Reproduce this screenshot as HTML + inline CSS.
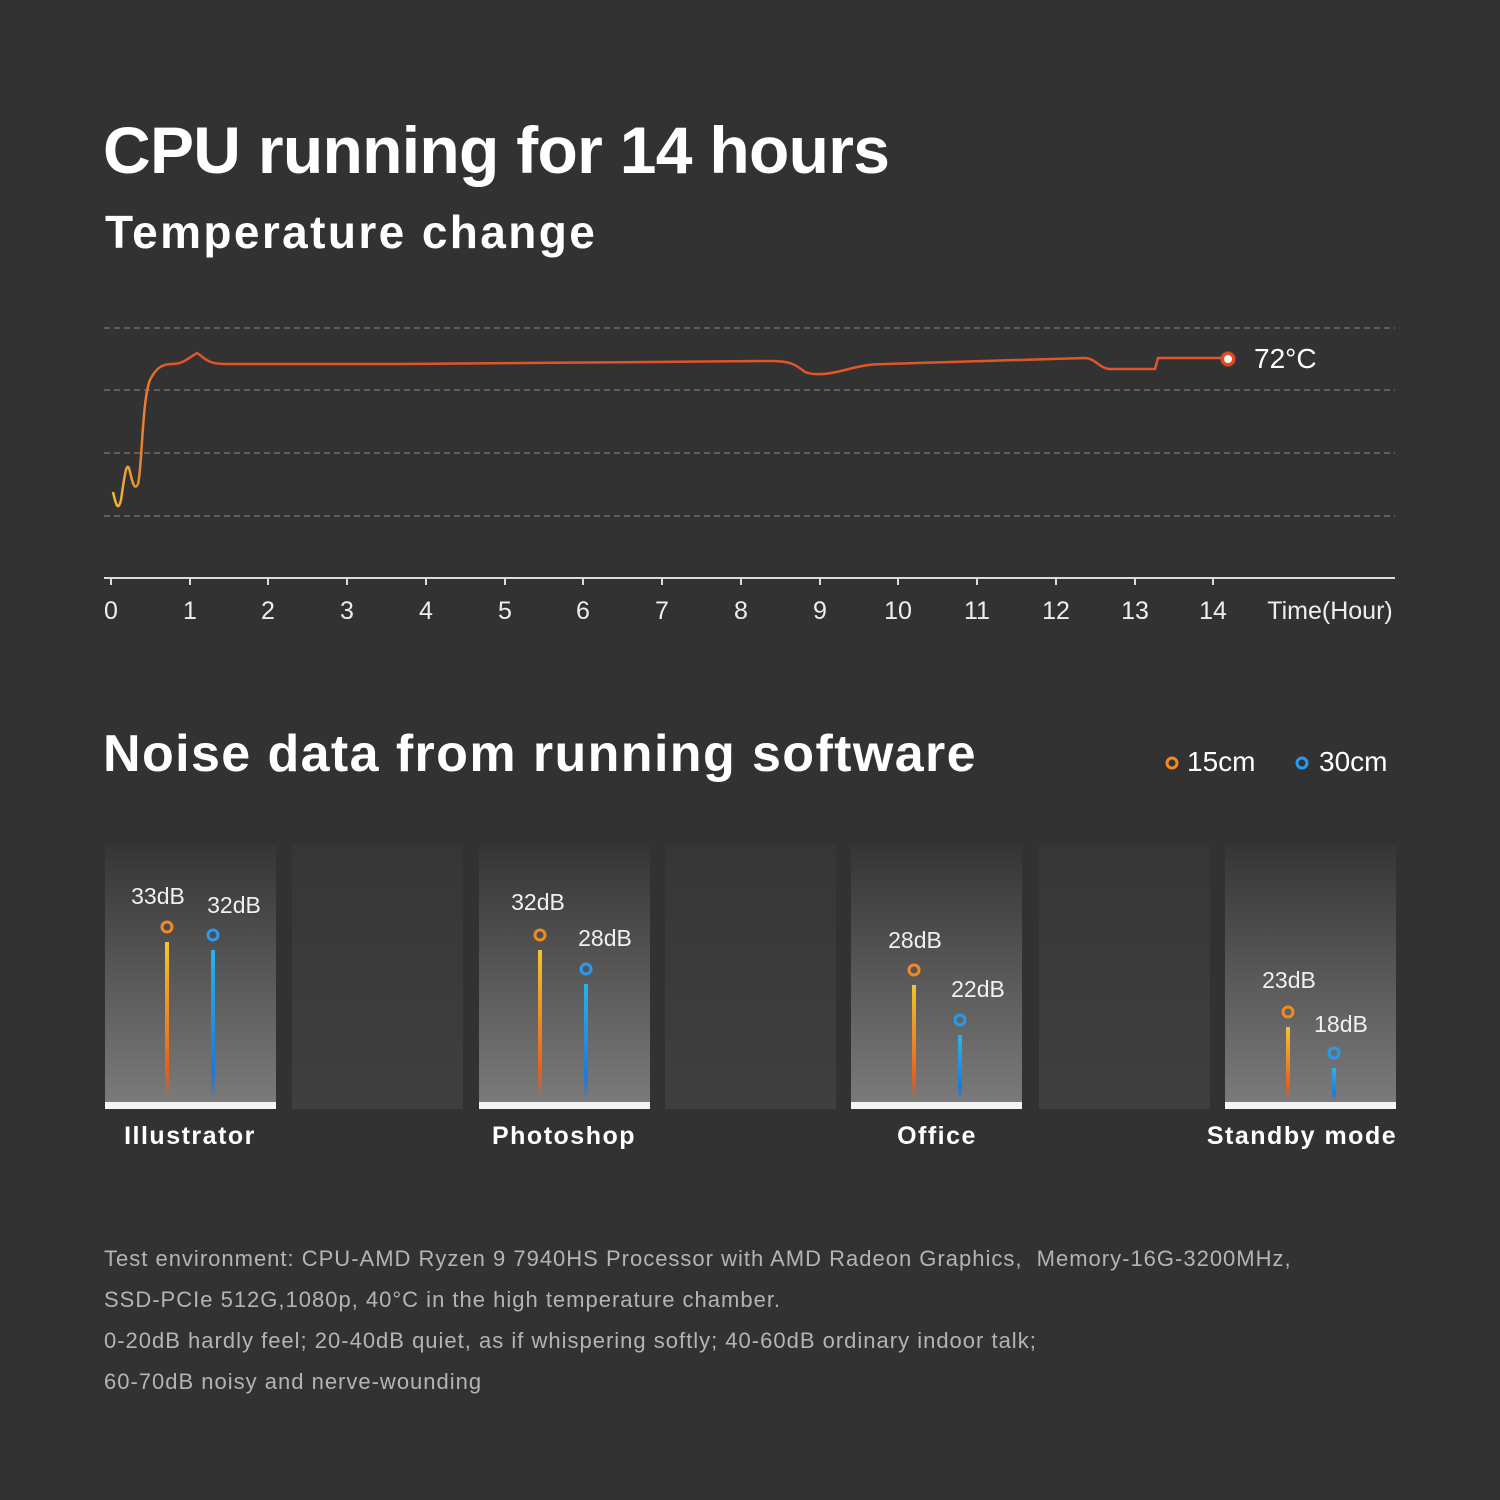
<!DOCTYPE html><html><head><meta charset="utf-8"><style>
body{margin:0;width:1500px;height:1500px;background:#323232;font-family:"Liberation Sans",sans-serif;color:#fff;position:relative;overflow:hidden}
.a{position:absolute;white-space:nowrap}
.p{position:absolute;top:845px;width:171px;height:257px;background:linear-gradient(#353535,#7a7a7a)}
.g{position:absolute;top:845px;width:171px;height:264px;background:linear-gradient(#363636,#3f3f3f)}
.w{position:absolute;top:1102px;width:171px;height:7px;background:#f4f4f4}
.lbl{position:absolute;font-size:25px;letter-spacing:1.5px;text-align:center;width:260px;top:1122px;font-weight:bold}
.foot{position:absolute;left:104px;font-size:22px;color:#b4b4b4;white-space:nowrap;letter-spacing:1px}
</style></head><body>
<div class="a" style="left:103px;top:112px;font-size:66px;font-weight:bold;letter-spacing:-0.7px">CPU running for 14 hours</div>
<div class="a" style="left:105px;top:205px;font-size:46px;font-weight:bold;letter-spacing:2.4px">Temperature change</div>
<svg class="a" style="left:0;top:0" width="1500" height="700">
<defs><linearGradient id="lg" gradientUnits="userSpaceOnUse" x1="110" y1="0" x2="165" y2="0"><stop offset="0" stop-color="#f0c040"/><stop offset="1" stop-color="#e0562a"/></linearGradient></defs>
<g stroke="#7a7a7a" stroke-dasharray="6,4" stroke-width="1.3">
<line x1="104" y1="328" x2="1395" y2="328"/><line x1="104" y1="390" x2="1395" y2="390"/><line x1="104" y1="453" x2="1395" y2="453"/><line x1="104" y1="516" x2="1395" y2="516"/></g>
<line x1="104" y1="578" x2="1395" y2="578" stroke="#ddd" stroke-width="2"/>
<g stroke="#ddd" stroke-width="2">
<line x1="111" y1="578" x2="111" y2="585"/><line x1="190" y1="578" x2="190" y2="585"/><line x1="268" y1="578" x2="268" y2="585"/><line x1="347" y1="578" x2="347" y2="585"/><line x1="426" y1="578" x2="426" y2="585"/><line x1="505" y1="578" x2="505" y2="585"/><line x1="583" y1="578" x2="583" y2="585"/><line x1="662" y1="578" x2="662" y2="585"/><line x1="741" y1="578" x2="741" y2="585"/><line x1="820" y1="578" x2="820" y2="585"/><line x1="898" y1="578" x2="898" y2="585"/><line x1="977" y1="578" x2="977" y2="585"/><line x1="1056" y1="578" x2="1056" y2="585"/><line x1="1135" y1="578" x2="1135" y2="585"/><line x1="1213" y1="578" x2="1213" y2="585"/></g>
<g fill="#eee" font-size="25" text-anchor="middle">
<text x="111" y="619">0</text><text x="190" y="619">1</text><text x="268" y="619">2</text><text x="347" y="619">3</text><text x="426" y="619">4</text><text x="505" y="619">5</text><text x="583" y="619">6</text><text x="662" y="619">7</text><text x="741" y="619">8</text><text x="820" y="619">9</text><text x="898" y="619">10</text><text x="977" y="619">11</text><text x="1056" y="619">12</text><text x="1135" y="619">13</text><text x="1213" y="619">14</text><text x="1330" y="619">Time(Hour)</text></g>
<path d="M113,492 C116,505 118,512 121,500 C124,480 126,462 129,468 C132,480 134,492 138,484 C142,470 142,400 150,380 C156,368 162,364 172,364 C182,364 186,360 197,353 C205,358 207,364 225,364 L400,364 L770,361 C790,361 795,364 805,372 C815,376 830,374 845,370 C860,366 870,364 885,364 L1085,358 C1095,358 1100,369 1110,369 L1155,369 L1158,358 L1228,358" fill="none" stroke="url(#lg)" stroke-width="2.5"/>
<circle cx="1228" cy="359" r="8" fill="#e0562a" opacity=".4"/>
<circle cx="1228" cy="359" r="5.5" fill="#fff" stroke="#e84a20" stroke-width="3"/>
<text x="1254" y="368" fill="#fff" font-size="28">72°C</text>
</svg>
<div class="a" style="left:103px;top:724px;font-size:52px;font-weight:bold;letter-spacing:1.4px">Noise data from running software</div>
<svg class="a" style="left:1160px;top:750px" width="30" height="30"><circle cx="12" cy="13" r="5" fill="none" stroke="#f08a24" stroke-width="3"/></svg>
<div class="a" style="left:1187px;top:746px;font-size:28px">15cm</div>
<svg class="a" style="left:1290px;top:750px" width="30" height="30"><circle cx="12" cy="13" r="5" fill="none" stroke="#2a9af0" stroke-width="3"/></svg>
<div class="a" style="left:1319px;top:746px;font-size:28px">30cm</div>

<div class="p" style="left:105px"></div><div class="w" style="left:105px"></div>
<div class="g" style="left:292px"></div>
<div class="p" style="left:479px"></div><div class="w" style="left:479px"></div>
<div class="g" style="left:665px"></div>
<div class="p" style="left:851px"></div><div class="w" style="left:851px"></div>
<div class="g" style="left:1039px"></div>
<div class="p" style="left:1225px"></div><div class="w" style="left:1225px"></div>

<svg class="a" style="left:0;top:0" width="1500" height="1110">
<defs>
<linearGradient id="og" x1="0" y1="0" x2="0" y2="1"><stop offset="0" stop-color="#f2c530"/><stop offset=".8" stop-color="#e8601c"/><stop offset="1" stop-color="#e8601c" stop-opacity="0"/></linearGradient>
<linearGradient id="bg" x1="0" y1="0" x2="0" y2="1"><stop offset="0" stop-color="#28b4e8"/><stop offset=".8" stop-color="#1e78e0"/><stop offset="1" stop-color="#1e78e0" stop-opacity="0"/></linearGradient>
</defs>
<g>
<rect x="165" y="942" width="4" height="158" fill="url(#og)"/><circle cx="167" cy="927" r="5" fill="none" stroke="#f08a24" stroke-width="3"/>
<rect x="211" y="950" width="4" height="150" fill="url(#bg)"/><circle cx="213" cy="935" r="5" fill="none" stroke="#2a9af0" stroke-width="3"/>
<rect x="538" y="950" width="4" height="150" fill="url(#og)"/><circle cx="540" cy="935" r="5" fill="none" stroke="#f08a24" stroke-width="3"/>
<rect x="584" y="984" width="4" height="116" fill="url(#bg)"/><circle cx="586" cy="969" r="5" fill="none" stroke="#2a9af0" stroke-width="3"/>
<rect x="912" y="985" width="4" height="115" fill="url(#og)"/><circle cx="914" cy="970" r="5" fill="none" stroke="#f08a24" stroke-width="3"/>
<rect x="958" y="1035" width="4" height="65" fill="url(#bg)"/><circle cx="960" cy="1020" r="5" fill="none" stroke="#2a9af0" stroke-width="3"/>
<rect x="1286" y="1027" width="4" height="73" fill="url(#og)"/><circle cx="1288" cy="1012" r="5" fill="none" stroke="#f08a24" stroke-width="3"/>
<rect x="1332" y="1068" width="4" height="32" fill="url(#bg)"/><circle cx="1334" cy="1053" r="5" fill="none" stroke="#2a9af0" stroke-width="3"/>
</g>
<g fill="#f0f0f0" font-size="23" text-anchor="middle">
<text x="158" y="904">33dB</text><text x="234" y="913">32dB</text>
<text x="538" y="910">32dB</text><text x="605" y="946">28dB</text>
<text x="915" y="948">28dB</text><text x="978" y="997">22dB</text>
<text x="1289" y="988">23dB</text><text x="1341" y="1032">18dB</text>
</g></svg>
<div class="lbl" style="left:60px">Illustrator</div>
<div class="lbl" style="left:434px">Photoshop</div>
<div class="lbl" style="left:807px">Office</div>
<div class="lbl" style="left:1172px">Standby mode</div>
<div class="foot" style="top:1246px">Test environment: CPU-AMD Ryzen 9 7940HS Processor with AMD Radeon Graphics,&nbsp; Memory-16G-3200MHz,</div>
<div class="foot" style="top:1287px">SSD-PCIe 512G,1080p, 40°C in the high temperature chamber.</div>
<div class="foot" style="top:1328px">0-20dB hardly feel; 20-40dB quiet, as if whispering softly; 40-60dB ordinary indoor talk;</div>
<div class="foot" style="top:1369px">60-70dB noisy and nerve-wounding</div>
</body></html>
